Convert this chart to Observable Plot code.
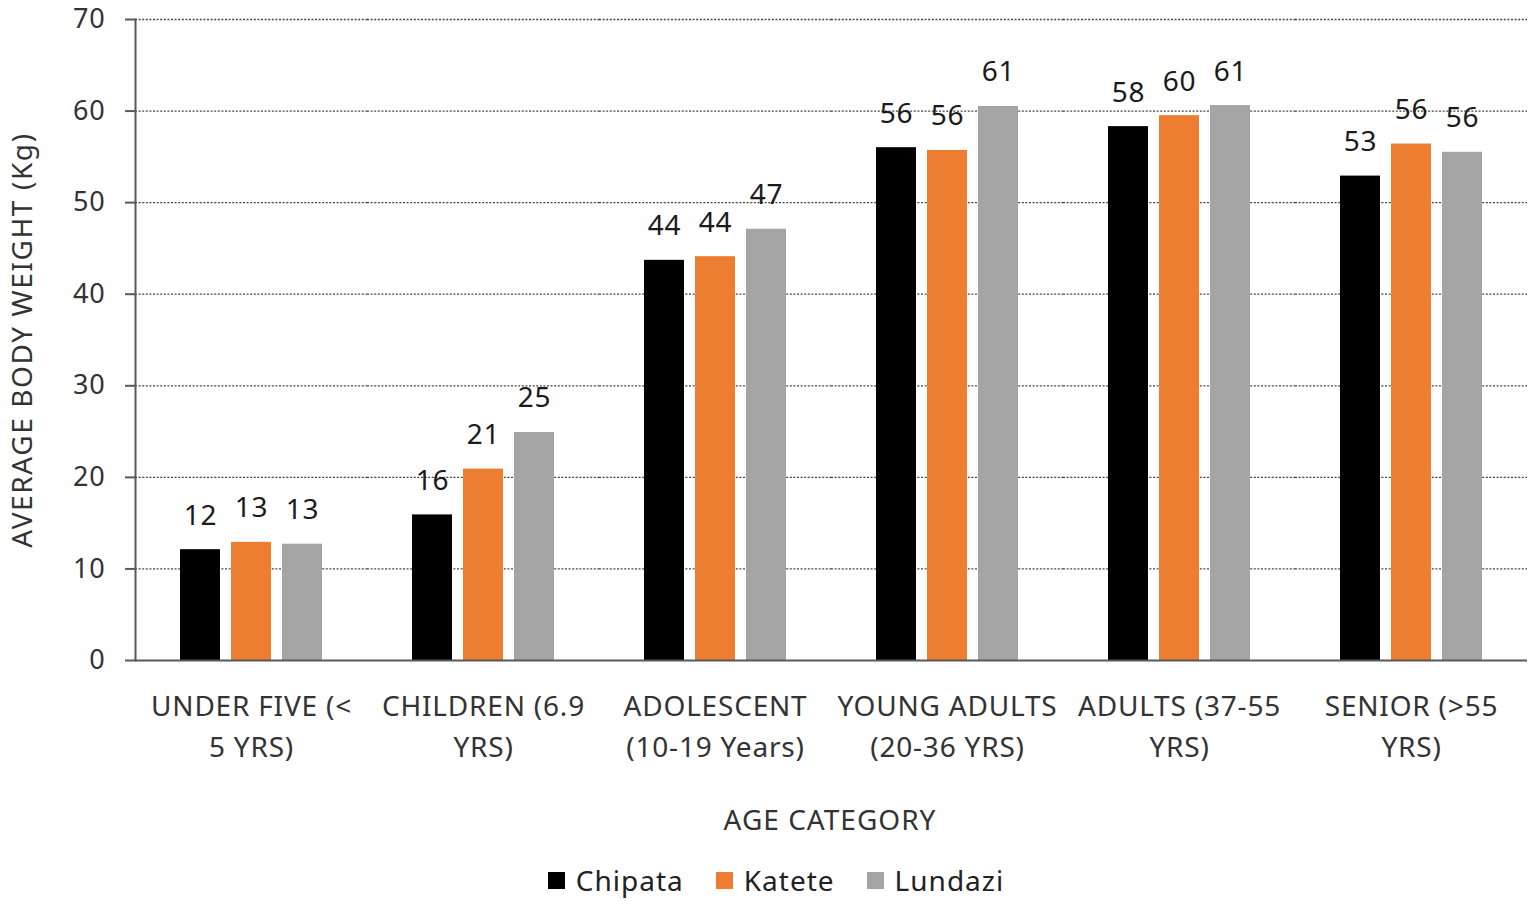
<!DOCTYPE html>
<html>
<head>
<meta charset="utf-8">
<script src="https://cdn.jsdelivr.net/npm/d3@7"></script>
<script src="https://cdn.jsdelivr.net/npm/@observablehq/plot@0.6"></script>
<style>
  html, body { margin: 0; padding: 0; background: #fff; }
  body { width: 1535px; height: 906px; overflow: hidden; font-family: "Noto Sans", sans-serif; color: #333; }
  #chart svg { display: block; }
  #chart svg text { letter-spacing: 0.8px; }
  #xtitle { position: absolute; left: 133px; width: 1394px; top: 800px; text-align: center; font-size: 28px; letter-spacing: 1px; color: #333; }
  #legend { position: absolute; left: 0; width: 1552px; top: 861px; display: flex; justify-content: center; gap: 32px; font-size: 28px; letter-spacing: 1px; color: #222; }
  .item { display: flex; align-items: center; }
  .sw { width: 17px; height: 17px; margin-right: 11px; display: inline-block; }
</style>
</head>
<body>
<div id="chart"></div>
<div id="xtitle">AGE CATEGORY</div>
<div id="legend"></div>
<script>
const categories = ["UNDER FIVE (< 5 YRS)", "CHILDREN (6.9 YRS)", "ADOLESCENT (10-19 Years)", "YOUNG ADULTS (20-36 YRS)", "ADULTS (37-55 YRS)", "SENIOR (>55 YRS)"];
const tickLabels = ["UNDER FIVE (<\n5 YRS)", "CHILDREN (6.9\nYRS)", "ADOLESCENT\n(10-19 Years)", "YOUNG ADULTS\n(20-36 YRS)", "ADULTS (37-55\nYRS)", "SENIOR (>55\nYRS)"];
const sites = ["Chipata", "Katete", "Lundazi"];
const chipata = [12.1, 15.9, 43.7, 56.0, 58.3, 52.9];
const katete  = [12.9, 20.9, 44.1, 55.7, 59.5, 56.4];
const lundazi = [12.7, 24.9, 47.1, 60.5, 60.6, 55.5];
const colors = ["#000000", "#ED7D31", "#A5A5A5"];
const yTicks = [0, 10, 20, 30, 40, 50, 60, 70];

const series = [chipata, katete, lundazi];
const data = categories.flatMap((c, i) => sites.map((s, j) => ({cat: c, site: s, value: series[j][i]})));

const chart = Plot.plot({
  width: 1535,
  height: 790,
  marginLeft: 134,
  marginRight: 8,
  marginTop: 19,
  marginBottom: 130,
  style: {fontFamily: "Noto Sans, sans-serif", background: "#fff"},
  fx: {domain: categories, padding: 0, label: null},
  x: {domain: sites, paddingInner: 0.22, paddingOuter: 0.86, axis: null},
  y: {domain: [0, 70]},
  color: {domain: sites, range: colors},
  marks: [
    Plot.gridY(yTicks.filter(d => d > 0), {stroke: "#444", strokeOpacity: 1, strokeWidth: 1.3, strokeDasharray: "2,1.6"}),
    Plot.barY(data, {fx: "cat", x: "site", y: "value", fill: "site"}),
    Plot.text(data, {fx: "cat", x: "site", y: "value", text: d => String(Math.round(d.value)), dy: -25, lineAnchor: "bottom", fontSize: 28, fill: "#1a1a1a"}),
    Plot.ruleY([0], {stroke: "#595959", strokeWidth: 2}),
    Plot.frame({anchor: "left", facetAnchor: "left", stroke: "#595959", strokeWidth: 2}),
    Plot.axisY(yTicks, {anchor: "left", tickSize: 10, tickPadding: 20, fontSize: 27, color: "#333", stroke: "#595959", strokeWidth: 2,
      label: "AVERAGE BODY WEIGHT (Kg)", labelAnchor: "center", labelArrow: "none", labelOffset: 123}),
    Plot.axisFx({anchor: "bottom", tickSize: 0, tickPadding: 26, fontSize: 28, lineHeight: 1.47, color: "#333",
      tickFormat: c => tickLabels[categories.indexOf(c)], label: null})
  ]
});
document.getElementById("chart").appendChild(chart);
// widen the rotated y-axis title a little like the reference
chart.querySelectorAll("text").forEach(t => {
  if (t.textContent === "AVERAGE BODY WEIGHT (Kg)") { t.style.letterSpacing = "1.6px"; t.setAttribute("font-size", "28"); }
});

const legend = document.getElementById("legend");
sites.forEach((s, j) => {
  const it = document.createElement("div");
  it.className = "item";
  const sw = document.createElement("span");
  sw.className = "sw";
  sw.style.background = colors[j];
  it.appendChild(sw);
  it.appendChild(document.createTextNode(s));
  legend.appendChild(it);
});
</script>
</body>
</html>
